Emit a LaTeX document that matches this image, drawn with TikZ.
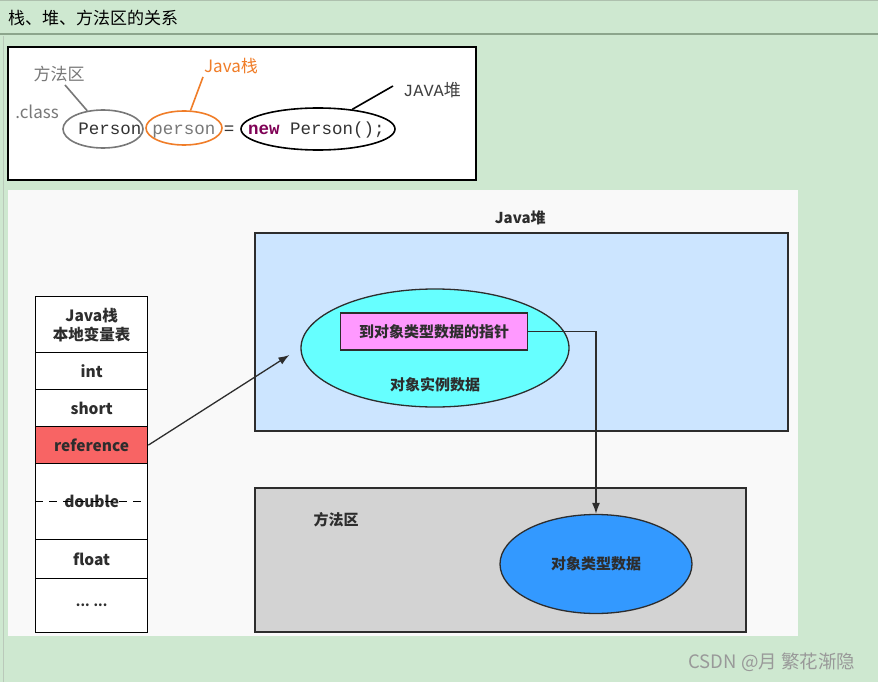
\documentclass[tikz,border=0pt]{standalone}
\usepackage{fontspec}
\setmainfont{Noto Sans CJK SC}
\newfontfamily\codefont{Liberation Mono}
\usetikzlibrary{shapes.geometric,arrows.meta,positioning}

\definecolor{pagegreen}{RGB}{206,232,208}
\definecolor{barline}{RGB}{140,165,140}
\definecolor{panelgray}{RGB}{249,249,249}
\definecolor{heapblue}{RGB}{204,229,255}
\definecolor{objcyan}{RGB}{102,255,255}
\definecolor{ptrpink}{RGB}{255,153,255}
\definecolor{methodgray}{RGB}{211,211,211}
\definecolor{clsblue}{RGB}{51,153,255}
\definecolor{refred}{RGB}{248,100,100}
\definecolor{javaorange}{RGB}{240,125,40}
\definecolor{labelgray}{RGB}{120,120,120}
\definecolor{newpurple}{RGB}{127,0,85}
\definecolor{edgedark}{RGB}{45,45,45}

\tikzset{
	cell/.style={draw=black, line width=1.3pt, fill=white, minimum width=112pt,
		anchor=north west, inner sep=0pt, align=center,
		font=\fontsize{15.5}{19}\selectfont\bfseries, text=edgedark},
	area/.style={draw=edgedark, line width=1.5pt, anchor=north west, inner sep=0pt},
	blob/.style={ellipse, draw=edgedark, line width=1.3pt, inner sep=0pt,
		font=\fontsize{15}{18}\selectfont\bfseries, text=edgedark},
	codering/.style={ellipse, line width=1.6pt, inner sep=0pt},
	codetext/.style={inner sep=0pt, anchor=base, text=black!80, font=\codefont\fontsize{17.5}{20}\selectfont},
	note/.style={inner sep=0pt, font=\fontsize{17}{20}\selectfont},
	arr/.style={draw=edgedark, line width=1.3pt, -{Latex[length=11pt,width=8pt]}}
}

\begin{document}
\begin{tikzpicture}[x=1pt,y=-1pt]

	% page and frames
	\fill[pagegreen] (0,0) rectangle (878,682);
	\useasboundingbox (0,0) rectangle (878,682);
	\draw[barline!70, line width=1.5pt] (0,0.75) -- (878,0.75);
	\draw[barline, line width=1.2pt] (0,34) -- (878,34);
	\draw[barline!60, line width=1pt] (3,36) -- (3,682);
	\node[note, anchor=west] (title) at (8,18) {栈、堆、方法区的关系};

	% code sample
	\draw[black, fill=white, line width=1.2pt] (8,47) rectangle (476,180);
	\node[codering, draw=labelgray, minimum width=80pt, minimum height=38pt] (pcls) at (103,129) {};
	\node[codering, draw=javaorange, minimum width=76pt, minimum height=34pt] (pvar) at (184,128) {};
	\node[codering, draw=black, minimum width=154pt, minimum height=42pt] (pobj) at (318,129) {};
	\node[codetext] (tcls) at (110,135) {Person};
	\node[codetext, text=labelgray] (tvar) at (184,135) {person};
	\node[codetext] (eq) at (229,135) {=};
	\node[codetext, anchor=base west] (tobj) at (248,135) {\textbf{\color{newpurple}new} Person();};
	\node[note, text=labelgray] (lmethod) at (59,74) {方法区};
	\node[note, text=labelgray] (lclass) at (37,112) {.class};
	\node[note, text=javaorange] (lstack) at (231,66) {Java栈};
	\node[note, text=black!75] (lheap) at (432,90) {{\codefont JAVA}堆};
	\coordinate (m1) at (65,85);
	\coordinate (s1) at (203,77);
	\coordinate (h1) at (393,86);
	\draw[labelgray, line width=1.6pt] (m1) -- (pcls);
	\draw[javaorange, line width=1.6pt] (s1) -- (pvar);
	\draw[black, line width=1.6pt] (h1) -- (pobj);

	% memory panel
	\fill[panelgray] (8,190) rectangle (798,636);

	% local variable table
	\node[cell, minimum height=56pt] (head) at (35,296) {Java栈\\本地变量表};
	\node[cell, minimum height=37pt] (int) at (35,352) {int};
	\node[cell, minimum height=37pt] (short) at (35,389) {short};
	\node[cell, minimum height=37pt, fill=refred] (ref) at (35,426) {reference};
	\node[cell, minimum height=76pt] (dbl) at (35,463) {double};
	\node[cell, minimum height=39pt] (flt) at (35,539) {float};
	\node[cell, minimum height=54pt] (more) at (35,578) {\textbf{\fontsize{13}{15}\selectfont ... ...}};
	\draw[black, line width=1.3pt, dash pattern=on 8pt off 6pt] (dbl.west) -- (dbl.east);

	% heap
	\node[area, fill=heapblue, minimum width=533pt, minimum height=198pt] (heap) at (254,232) {};
	\node[blob, draw=none, above=3pt of heap.north, xshift=-1pt] (lheapbox) {Java堆};
	\node[blob, fill=objcyan, minimum width=268pt, minimum height=118pt] (obj) at (435,348) {};
	\node[blob, draw=edgedark, rectangle, fill=ptrpink, minimum width=187pt, minimum height=37pt] (ptr) at (434,331.5) {到对象类型数据的指针};
	\node[blob, draw=none] (objtxt) at (435,385) {对象实例数据};

	% method area
	\node[area, fill=methodgray, minimum width=491pt, minimum height=144pt] (method) at (254,487) {};
	\node[blob, draw=none] (lmethodbox) at (336,520) {方法区};
	\node[blob, fill=clsblue, minimum width=192pt, minimum height=99pt] (cls) at (596,564) {对象类型数据};

	% pointers
	\draw[arr, shorten >=13pt] (ref.east) -- (obj.west);
	\draw[arr] (ptr.east) -| (cls.north);

	\node[note, text=black!40, font=\fontsize{18.5}{22}\selectfont] (mark) at (772,662) {CSDN @月 繁花渐隐};
\end{tikzpicture}
\end{document}
